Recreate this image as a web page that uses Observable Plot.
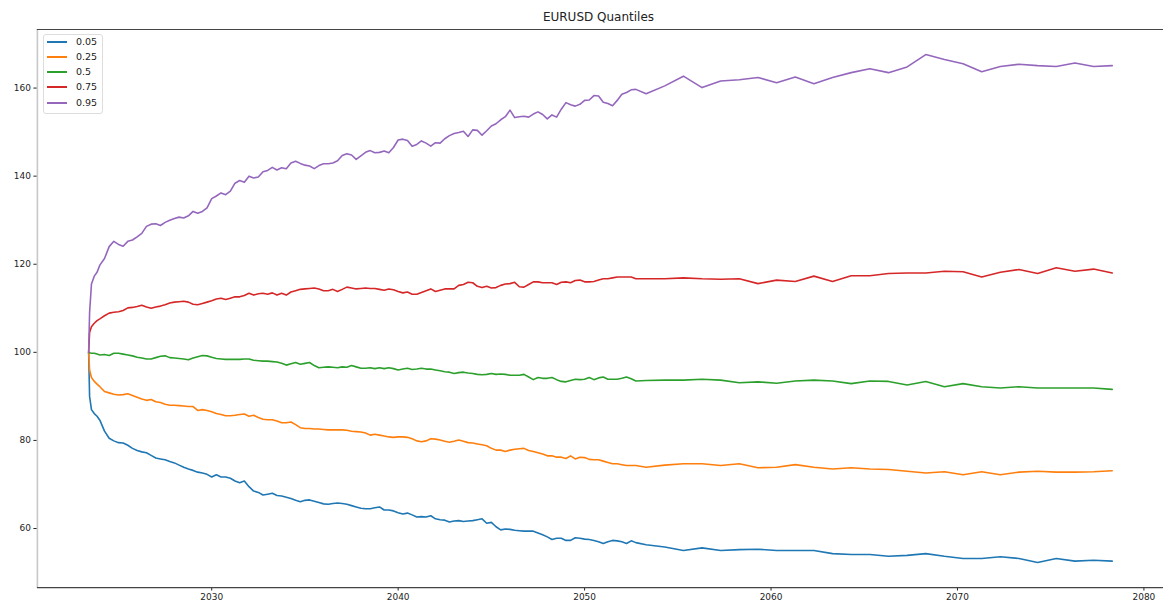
<!DOCTYPE html>
<html>
<head>
<meta charset="utf-8">
<script src="https://cdn.jsdelivr.net/npm/d3@7"></script>
<script src="https://cdn.jsdelivr.net/npm/@observablehq/plot@0.6"></script>
<style>
  html, body { margin: 0; padding: 0; background: #fff; overflow: hidden; }
  #wrap { position: relative; width: 1163px; height: 608px; font-family: "DejaVu Sans", sans-serif; color: #222; }
  #title { position: absolute; left: 37px; width: 1123px; top: 10px; text-align: center; font-size: 12px; line-height: 14px; }
  #chart { position: absolute; left: 0; top: 24px; }
  #legend { position: absolute; left: 43px; top: 34px; width: 58px; height: 78px; border: 1px solid #ddd; border-radius: 3px; background: rgba(255,255,255,0.9); }
  .row { position: absolute; left: 0; width: 58px; height: 12px; font-size: 9.5px; line-height: 12px; }
  .swatch { position: absolute; left: 3px; top: 5px; width: 20px; height: 2px; }
  .lab { position: absolute; left: 32px; top: 0; white-space: nowrap; }
</style>
</head>
<body>
<div id="wrap">
  <div id="title"></div>
  <div id="chart"></div>
  <div id="legend"></div>
</div>
<script>
const title = "EURUSD Quantiles";
const quantiles = ["0.05", "0.25", "0.5", "0.75", "0.95"];
const colors = ["#1f77b4", "#ff7f0e", "#2ca02c", "#d62728", "#9467bd"];
const xTicks = [2030, 2040, 2050, 2060, 2070, 2080];
const yTicks = [60, 80, 100, 120, 140, 160];
const xDomain = [2020.65, 2081.05];
const yDomain = [46.6, 173.3];

// sampling dates (decimal years): first months, quarterly, then yearly
const dates = [2023.4, 2023.45, 2023.55, 2023.7, 2023.85,
  ...d3.range(2024, 2053, 0.25),
  ...d3.range(2053.3, 2078.31, 1)];

const q05 = [100, 90.0, 87.0, 86.1, 85.5,
  84.6, 82.1, 80.5, 79.9,
  79.5, 79.4, 78.9, 78.2,
  77.7, 77.4, 77.2, 76.6,
  76.0, 75.8, 75.6, 75.2,
  74.9, 74.4, 73.9, 73.5,
  73.2, 72.8, 72.6, 72.3,
  71.7, 72.2, 71.7, 71.7,
  71.4, 70.8, 70.4, 70.8,
  69.5, 68.5, 68.2, 67.6,
  67.8, 68.0, 67.5, 67.4,
  67.1, 66.8, 66.4, 66.1,
  66.4, 66.5, 66.2, 65.9,
  65.6, 65.5, 65.7, 65.8,
  65.7, 65.5, 65.2, 64.9,
  64.6, 64.5, 64.5, 64.7,
  64.9, 64.2, 64.2, 64.0,
  63.6, 63.3, 63.5, 63.1,
  62.6, 62.7, 62.6, 62.9,
  62.2, 62.0, 61.9, 61.5,
  61.7, 61.8, 61.6, 61.7,
  61.8, 62.0, 62.2, 61.2,
  61.4, 60.4, 59.7, 59.9,
  59.8, 59.6, 59.5, 59.4,
  59.4, 59.4, 59.0, 58.6,
  58.1, 57.5, 57.8, 57.8,
  57.3, 57.3, 57.9, 57.8,
  57.6, 57.5, 57.3, 57.0,
  56.6, 57.0, 57.3, 57.2,
  57.0, 56.6, 57.2, 56.8,
  56.3, 55.8, 55.0, 55.6, 55.0, 55.2, 55.3, 55.0, 55.0, 55.0, 54.3, 54.1, 54.1,
  53.7, 53.9, 54.3, 53.7, 53.2, 53.2, 53.6, 53.2, 52.3, 53.2, 52.6, 52.8, 52.6];

const q25 = [100, 96.0, 94.3, 93.4, 92.8,
  92.2, 91.1, 90.8, 90.5,
  90.3, 90.4, 90.6, 90.2,
  89.8, 89.4, 89.1, 89.3,
  88.8, 88.6, 88.2, 88.0,
  88.0, 87.9, 87.8, 87.7,
  87.7, 86.8, 87.0, 86.8,
  86.5, 86.1, 85.9, 85.6,
  85.6, 85.7, 85.9, 86.0,
  85.5, 85.7, 85.2, 84.8,
  84.7, 84.7, 84.4, 84.0,
  84.0, 84.2, 83.6, 82.9,
  82.7, 82.7, 82.6, 82.6,
  82.5, 82.4, 82.4, 82.4,
  82.4, 82.3, 82.1, 82.0,
  81.9, 81.7, 81.2, 81.4,
  81.2, 81.0, 80.8, 80.7,
  80.8, 80.8, 80.7, 80.4,
  79.9, 79.7, 79.9, 80.4,
  80.3, 80.1, 79.8, 79.6,
  79.8, 80.1, 79.8, 79.5,
  79.4, 79.2, 79.0, 78.8,
  78.2, 77.8, 77.8, 77.5,
  77.8, 78.0, 78.1, 78.2,
  77.7, 77.5, 77.2, 76.9,
  76.5, 76.5, 76.2, 76.2,
  75.9, 76.5, 75.8, 76.2,
  76.1, 75.7, 75.6, 75.6,
  75.3, 75.0, 74.7, 74.7,
  74.5, 74.3, 74.3, 74.3,
  73.9, 74.4, 74.7, 74.7, 74.3, 74.7, 73.8, 73.9, 74.5, 73.9, 73.5, 73.8, 73.5,
  73.4, 73.0, 72.6, 72.9, 72.2, 72.9, 72.2, 72.8, 73.0, 72.8, 72.8, 72.9, 73.1];

const q50 = [100, 99.9, 99.8, 99.8, 99.6,
  99.4, 99.5, 99.3, 99.8,
  99.8, 99.6, 99.4, 99.2,
  98.9, 98.7, 98.5, 98.5,
  98.8, 99.1, 99.2, 98.8,
  98.7, 98.6, 98.5, 98.3,
  98.7, 99.0, 99.3, 99.2,
  98.9, 98.6, 98.5, 98.4,
  98.4, 98.4, 98.4, 98.5,
  98.5, 98.2, 98.1, 98.0,
  98.0, 97.9, 97.8, 97.5,
  97.1, 97.4, 97.7, 97.3,
  97.5, 97.7, 97.0, 96.5,
  96.6, 96.7, 96.6, 96.5,
  96.7, 96.6, 97.0, 96.7,
  96.4, 96.4, 96.5, 96.3,
  96.5, 96.3, 96.5, 96.3,
  96.0, 96.2, 96.4, 96.1,
  96.2, 96.4, 96.2, 96.2,
  96.0, 95.8, 95.6, 95.5,
  95.2, 95.4, 95.5, 95.3,
  95.2, 95.0, 94.9, 95.0,
  95.2, 95.0, 95.1, 95.0,
  94.8, 94.8, 94.8, 95.0,
  94.4, 93.8, 94.3, 94.1,
  94.1, 94.3, 93.8, 93.4,
  93.3, 93.6, 93.9, 93.8,
  93.9, 94.3, 93.8, 94.2,
  94.4, 93.9, 93.9, 93.9,
  94.1, 94.4, 94.0, 93.5,
  93.6, 93.7, 93.7, 93.9, 93.7, 93.1, 93.3, 93.0, 93.5, 93.7, 93.5, 92.9, 93.5,
  93.4, 92.6, 93.4, 92.2, 92.9, 92.2, 91.9, 92.2, 91.9, 91.9, 91.9, 91.9, 91.6];

const q75 = [100, 104.5, 105.8, 106.6, 107.2,
  107.6, 108.3, 108.9, 109.1,
  109.2, 109.5, 110.1, 110.2,
  110.4, 110.7, 110.3, 110.0,
  110.3, 110.5, 110.8, 111.2,
  111.4, 111.5, 111.6, 111.4,
  110.9, 110.8, 111.1, 111.4,
  111.7, 112.1, 112.3, 112.0,
  112.3, 112.6, 112.6, 112.9,
  113.4, 113.0, 113.3, 113.4,
  113.2, 113.5, 113.0, 113.4,
  113.0, 113.7, 114.0, 114.3,
  114.4, 114.5, 114.6, 114.4,
  114.0, 114.0, 114.3, 113.8,
  114.3, 114.8, 114.6, 114.4,
  114.5, 114.6, 114.5, 114.5,
  114.3, 114.1, 114.4, 114.2,
  113.8, 113.5, 113.7, 113.2,
  113.2, 113.6, 114.0, 114.4,
  113.8, 114.1, 114.4, 114.4,
  114.4, 115.2, 115.4, 115.9,
  115.8, 115.0, 114.7, 115.0,
  114.6, 114.7, 115.2, 115.5,
  115.6, 115.9, 114.9, 114.8,
  115.4, 116.0, 116.0, 115.8,
  115.8, 115.8, 115.4, 115.9,
  116.0, 115.8, 116.3, 116.4,
  116.0, 116.0, 116.1, 116.4,
  116.7, 116.7, 116.9, 117.1,
  117.1, 117.1, 117.1, 116.7,
  116.7, 116.7, 116.9, 116.7, 116.6, 116.7, 115.6, 116.4, 116.1, 117.3, 116.1, 117.4, 117.4,
  117.9, 118.0, 118.0, 118.4, 118.3, 117.1, 118.2, 118.8, 117.9, 119.2, 118.4, 118.9, 118.0];

const q95 = [100, 109.0, 115.5, 117.3, 118.2,
  119.8, 121.3, 124.0, 125.2,
  124.5, 124.1, 125.2, 125.5,
  126.2, 127.0, 128.6, 129.1,
  129.2, 128.8, 129.5, 130.0,
  130.4, 130.7, 130.5, 131.0,
  132.0, 131.6, 132.0, 132.8,
  134.9, 135.5, 136.2, 135.8,
  136.6, 138.4, 139.0, 138.6,
  140.0, 139.6, 139.8, 141.0,
  141.3, 142.0, 141.4, 141.9,
  141.7, 143.0, 143.4, 142.9,
  142.5, 142.3, 141.7, 142.4,
  142.8, 142.8, 143.0, 143.5,
  144.7, 145.1, 144.8, 143.8,
  144.6, 145.4, 145.8, 145.3,
  145.4, 145.7, 145.3, 146.5,
  148.2, 148.4, 148.1, 146.8,
  147.2, 148.0, 147.5, 146.8,
  147.6, 147.5, 148.5, 149.2,
  149.7, 149.9, 150.2, 149.0,
  150.5, 150.4, 149.3, 150.3,
  151.4, 151.9, 152.8, 153.5,
  155.0, 153.3, 153.5, 153.6,
  153.4, 154.1, 154.6, 154.0,
  153.0, 153.9, 153.4, 155.2,
  156.7, 156.2, 155.9, 156.3,
  157.2, 157.3, 158.3, 158.2,
  156.8, 156.5, 156.0, 157.2,
  158.6, 159.0, 159.6, 159.7,
  158.7, 160.5, 162.7, 160.1, 161.6, 161.9, 162.4, 161.2, 162.5, 161.0, 162.4, 163.5, 164.4,
  163.5, 164.8, 167.6, 166.5, 165.5, 163.7, 164.9, 165.4, 165.1, 164.9, 165.7, 164.9, 165.1];

const seriesValues = [q05, q25, q50, q75, q95];

const data = [];
quantiles.forEach((q, i) => {
  const vals = seriesValues[i];
  for (let j = 0; j < Math.min(vals.length, dates.length); j++) {
    data.push({ date: dates[j], value: vals[j], q });
  }
});

document.getElementById("title").textContent = title;

const chart = Plot.plot({
  width: 1167,
  height: 584,
  marginLeft: 37,
  marginRight: 0,
  marginTop: 5,
  marginBottom: 19,
  style: { fontFamily: "DejaVu Sans, sans-serif", fontSize: "9px", color: "#222", background: "#fff" },
  x: { domain: xDomain, ticks: xTicks, tickFormat: d => String(d), label: null, tickSize: 3.5, tickPadding: 3 },
  y: { domain: yDomain, ticks: yTicks, label: null, tickSize: 3.5, tickPadding: 3 },
  color: { domain: quantiles, range: colors },
  marks: [
    Plot.line(data, { x: "date", y: "value", z: "q", stroke: "q", strokeWidth: 1.6 }),
    Plot.ruleX([xDomain[0]], { stroke: "#c8c8c8", strokeWidth: 1.6 }),
    Plot.ruleY([yDomain[1]], { stroke: "#444", strokeWidth: 1.2 }),
    Plot.ruleY([yDomain[0]], { stroke: "#444", strokeWidth: 1.2 })
  ]
});
document.getElementById("chart").appendChild(chart);

const legend = document.getElementById("legend");
const rowTops = [1, 16, 31, 46, 62];
quantiles.forEach((q, i) => {
  const row = document.createElement("div");
  row.className = "row";
  row.style.top = rowTops[i] + "px";
  const sw = document.createElement("div");
  sw.className = "swatch";
  sw.style.background = colors[i];
  const lab = document.createElement("div");
  lab.className = "lab";
  lab.textContent = q;
  row.appendChild(sw);
  row.appendChild(lab);
  legend.appendChild(row);
});
</script>
</body>
</html>
